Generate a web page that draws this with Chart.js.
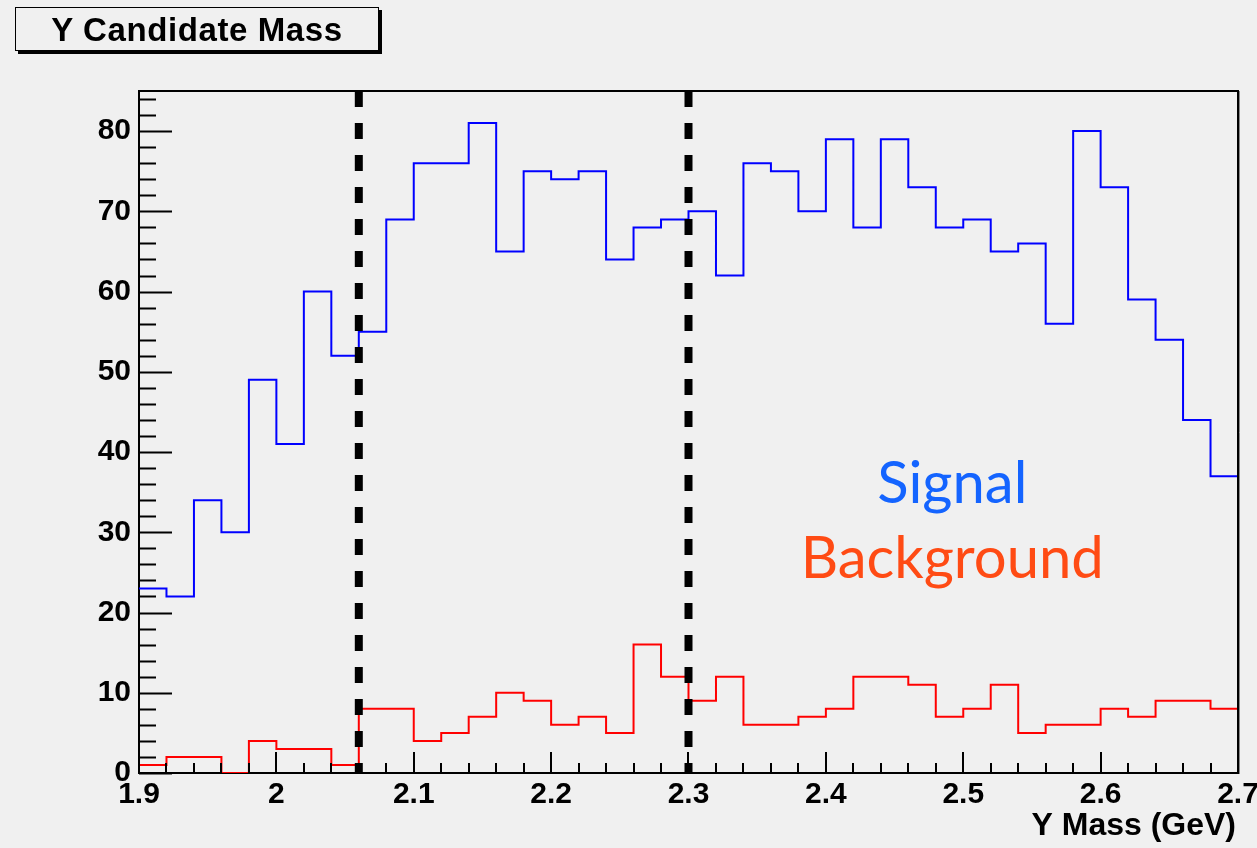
<!DOCTYPE html>
<html>
<head>
<meta charset="utf-8">
<title>Y Candidate Mass</title>
<script src="https://cdn.jsdelivr.net/npm/chart.js@4.4.1/dist/chart.umd.min.js"></script>
<style>
  html, body { margin: 0; padding: 0; background: #f0f0f0; }
  #wrap { position: relative; width: 1257px; height: 848px; }
  #title {
    position: absolute; left: 15px; top: 7px; width: 362px; height: 42px;
    border: 1px solid #000; box-shadow: 3px 3px 0 #000; background: #f0f0f0;
    font: bold 33px "Liberation Sans", Arial, sans-serif; letter-spacing: 0.6px;
    line-height: 44px; text-align: center; color: #000;
  }
  canvas { position: absolute; left: 0; top: 0; }
</style>
</head>
<body>
<div id="wrap">
  <canvas id="chart" width="1257" height="848"></canvas>
  <div id="title">Y Candidate Mass</div>
</div>
<script>
// bin low edges (GeV), 0.02 wide
const binLowEdges = [
  1.90, 1.92, 1.94, 1.96, 1.98, 2.00, 2.02, 2.04, 2.06, 2.08,
  2.10, 2.12, 2.14, 2.16, 2.18, 2.20, 2.22, 2.24, 2.26, 2.28,
  2.30, 2.32, 2.34, 2.36, 2.38, 2.40, 2.42, 2.44, 2.46, 2.48,
  2.50, 2.52, 2.54, 2.56, 2.58, 2.60, 2.62, 2.64, 2.66, 2.68,
];
const lastEdge = 2.70;

const signalCounts = [
  23, 22, 34, 30, 49, 41, 60, 52, 55, 69,
  76, 76, 81, 65, 75, 74, 75, 64, 68, 69,
  70, 62, 76, 75, 70, 79, 68, 79, 73, 68,
  69, 65, 66, 56, 80, 73, 59, 54, 44, 37,
];
const backgroundCounts = [
  1, 2, 2, 0, 4, 3, 3, 1, 8, 8,
  4, 5, 7, 10, 9, 6, 7, 5, 16, 12,
  9, 12, 6, 6, 7, 8, 12, 12, 11, 7,
  8, 11, 5, 6, 6, 8, 7, 9, 9, 8,
];

// mass window cuts
const cutPositions = [2.06, 2.30];

const xMin = 1.9, xMax = 2.7;
const yMin = 0, yMax = 85;
const xTitle = 'Y Mass (GeV)';

const labelFont = { family: '"Liberation Sans", Arial, sans-serif', size: 30, weight: 'bold' };

function histPoints(counts) {
  const pts = binLowEdges.map((x, i) => ({ x, y: counts[i] }));
  pts.push({ x: lastEdge, y: counts[counts.length - 1] });
  return pts;
}

function fmt(v) {
  return String(Number(v.toFixed(2)));
}

// ROOT style frame: ticks inside, top/right border, text labels
const rootFrame = {
  id: 'rootFrame',
  afterDraw(chart) {
    const { ctx, chartArea: a, scales: { x, y } } = chart;
    ctx.save();
    ctx.strokeStyle = '#000';
    ctx.lineWidth = 2;
    ctx.beginPath();
    // y ticks, every 2, major every 10
    for (let v = yMin; v <= yMax; v += 2) {
      const py = Math.round(y.getPixelForValue(v)) + 0.5;
      const len = v % 10 === 0 ? 33 : 17;
      ctx.moveTo(a.left, py);
      ctx.lineTo(a.left + len, py);
    }
    // x ticks on bin edges, major every 0.1
    [...binLowEdges, lastEdge].forEach((e, i) => {
      const px = Math.round(x.getPixelForValue(e));
      const len = i % 5 === 0 ? 21 : 10;
      ctx.moveTo(px, a.bottom);
      ctx.lineTo(px, a.bottom - len);
    });
    ctx.stroke();

    // top and right frame
    ctx.beginPath();
    ctx.moveTo(a.left, a.top);
    ctx.lineTo(a.right, a.top);
    ctx.lineTo(a.right, a.bottom);
    ctx.stroke();
    ctx.strokeStyle = '#888';
    ctx.lineWidth = 1;
    ctx.beginPath();
    ctx.moveTo(a.right + 1.5, a.top);
    ctx.lineTo(a.right + 1.5, a.bottom + 1);
    ctx.stroke();

    // axis title, right aligned under the axis
    ctx.fillStyle = '#000';
    ctx.textAlign = 'right';
    ctx.textBaseline = 'alphabetic';
    ctx.font = 'bold 32px "Liberation Sans", Arial, sans-serif';
    ctx.fillText(xTitle, a.right - 2, a.bottom + 62);

    // annotation text
    ctx.textAlign = 'center';
    ctx.font = '58px Lato, "Open Sans", sans-serif';
    ctx.fillStyle = '#1464ff';
    ctx.fillText('Signal', x.getPixelForValue(2.492), y.getPixelForValue(33.6));
    ctx.fillStyle = '#ff4b14';
    ctx.fillText('Background', x.getPixelForValue(2.492), y.getPixelForValue(24.3));
    ctx.restore();
  },
};

const datasets = [
  ...cutPositions.map(c => ({
    label: 'cut ' + c,
    data: [{ x: c, y: yMax }, { x: c, y: yMin }],
    borderColor: '#000',
    borderWidth: 8,
    borderDash: [16, 16],
    borderCapStyle: 'butt',
    pointRadius: 0,
    fill: false,
    order: 0,
  })),
  {
    label: 'Signal',
    data: histPoints(signalCounts),
    borderColor: '#0000ff',
    borderWidth: 2,
    stepped: 'before',
    pointRadius: 0,
    fill: false,
    order: 1,
  },
  {
    label: 'Background',
    data: histPoints(backgroundCounts),
    borderColor: '#ff0000',
    borderWidth: 2,
    stepped: 'before',
    pointRadius: 0,
    fill: false,
    order: 1,
  },
];

new Chart(document.getElementById('chart').getContext('2d'), {
  type: 'line',
  data: { datasets },
  options: {
    responsive: false,
    animation: false,
    layout: { padding: { top: 91, right: 19, left: 0, bottom: 0 } },
    plugins: { legend: { display: false }, tooltip: { enabled: false } },
    scales: {
      x: {
        type: 'linear',
        min: xMin,
        max: xMax,
        grid: { display: false, drawTicks: false },
        border: { display: true, color: '#000', width: 2 },
        ticks: {
          stepSize: 0.1,
          color: '#000',
          font: labelFont,
          padding: 4,
          maxRotation: 0,
          autoSkip: false,
          includeBounds: false,
          callback: v => fmt(v),
        },
        afterFit(s) { s.height = 75; s.paddingLeft = 0; s.paddingRight = 0; },
      },
      y: {
        min: yMin,
        max: yMax,
        grid: { display: false, drawTicks: false },
        border: { display: true, color: '#000', width: 2 },
        ticks: {
          stepSize: 10,
          color: '#000',
          font: labelFont,
          padding: 8,
          includeBounds: false,
          callback: v => fmt(v),
        },
        afterFit(s) { s.width = 139; s.paddingTop = 0; s.paddingBottom = 0; },
      },
    },
  },
  plugins: [rootFrame],
});
</script>
</body>
</html>
